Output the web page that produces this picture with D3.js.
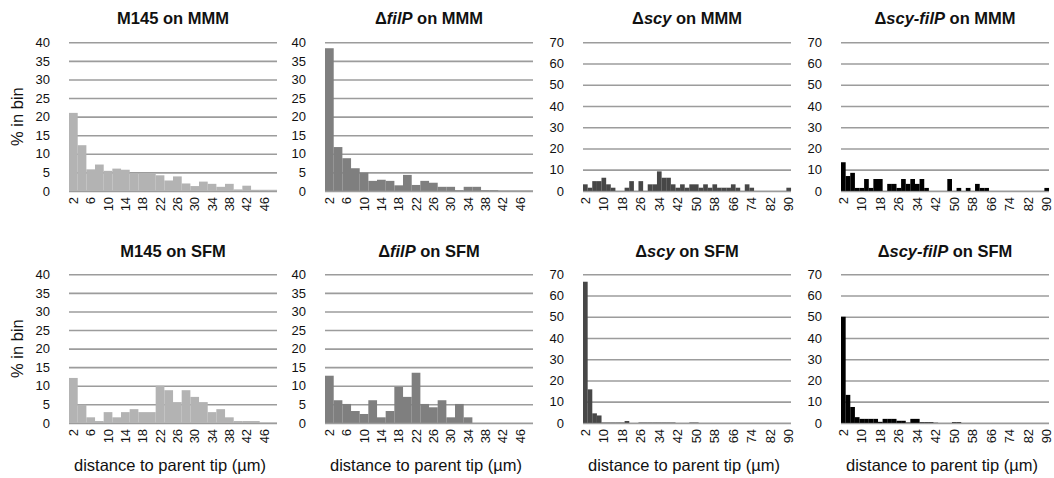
<!DOCTYPE html>
<html>
<head>
<meta charset="utf-8">
<script src="https://cdn.jsdelivr.net/npm/d3@7"></script>
<style>
  html, body { margin: 0; padding: 0; background: #fff; }
  svg { display: block; font-family: "Liberation Sans", Arial, Helvetica, sans-serif; }
  .tick text { fill: #111; }
</style>
</head>
<body>
<svg id="chart" width="1054" height="478"></svg>
<script>
// Bin centres (µm) for the short and long distance ranges
const binsShort = [2, 4, 6, 8, 10, 12, 14, 16, 18, 20, 22, 24, 26, 28, 30, 32, 34, 36, 38, 40, 42, 44, 46, 48];
const binsLong = [2, 4, 6, 8, 10, 12, 14, 16, 18, 20, 22, 24, 26, 28, 30, 32, 34, 36, 38, 40, 42, 44, 46, 48,
                  50, 52, 54, 56, 58, 60, 62, 64, 66, 68, 70, 72, 74, 76, 78, 80, 82, 84, 86, 88, 90];

// Tick labels shown on the category axes
const labelsShort = [2, 6, 10, 14, 18, 22, 26, 30, 34, 38, 42, 46];
const labelsLong = [2, 10, 18, 26, 34, 42, 50, 58, 66, 74, 82, 90];

// Value-axis ticks
const ticksLow = [0, 5, 10, 15, 20, 25, 30, 35, 40];
const ticksHigh = [0, 10, 20, 30, 40, 50, 60, 70];

// % of branches in each bin — MMM
const m145MMM = [21.0, 12.3, 5.8, 7.1, 5.4, 6.0, 5.7, 4.8, 4.8, 4.7, 4.2, 2.8, 3.9, 2.0, 1.3, 2.5, 1.9, 1.1, 1.9, 0.4, 1.4, 0.3, 0.3, 0.3];
const filpMMM = [38.4, 11.8, 8.8, 6.1, 4.9, 2.7, 3.0, 2.7, 1.5, 4.3, 1.6, 2.7, 2.2, 1.1, 1.1, 0.2, 1.1, 1.1, 0.2, 0.2, 0.1, 0.1, 0.1, 0.1];
const scyMMM = [3.1, 1.5, 4.6, 4.6, 6.2, 3.1, 1.5, 0, 0, 1.5, 4.6, 0, 4.6, 0, 3.1, 3.1, 9.2, 6.2, 6.2, 3.1,
                1.5, 3.1, 1.5, 3.1, 3.1, 1.5, 3.1, 1.5, 3.1, 1.5, 1.5, 1.5, 3.1, 1.5, 0, 3.1, 1.5, 0, 0, 0,
                0, 0, 0, 0, 1.5];
const scyfilpMMM = [13.5, 7.0, 8.5, 1.4, 1.4, 5.6, 1.4, 5.6, 5.6, 0, 3.3, 3.3, 1.4, 5.6, 3.3, 5.6, 3.3, 5.6, 1.4, 0,
                    0, 0, 0, 5.6, 0, 1.4, 0, 1.4, 0, 3.3, 1.4, 1.4, 0, 0, 0, 0, 0, 0, 0, 0,
                    0, 0, 0, 0, 1.4];

// % of branches in each bin — SFM
const m145SFM = [12.1, 4.9, 1.5, 0.5, 2.9, 1.5, 2.9, 3.7, 2.9, 2.9, 10.0, 8.8, 5.6, 8.8, 7.0, 5.6, 2.9, 3.7, 1.5, 0.5, 0.5, 0.5, 0.1, 0.1];
const filpSFM = [12.7, 6.1, 5.1, 3.2, 2.4, 6.1, 1.5, 3.2, 9.7, 7.0, 13.5, 5.1, 4.2, 6.1, 1.5, 5.1, 1.5, 0, 0, 0, 0, 0, 0, 0];
const scySFM = [66.5, 15.8, 4.5, 3.5, 0.2, 0.2, 0.2, 0.2, 0.2, 0.9, 0, 0, 0.2, 0.2, 0.2, 0.2, 0.2, 0.2, 0.2, 0.2,
                0, 0, 0, 0.2, 0.2, 0, 0, 0, 0, 0, 0, 0, 0, 0, 0, 0, 0, 0, 0, 0,
                0, 0, 0, 0, 0];
const scyfilpSFM = [50.0, 13.2, 7.5, 2.7, 1.9, 1.9, 1.9, 1.9, 0.5, 1.9, 1.9, 1.9, 1.0, 1.0, 0.2, 1.9, 1.9, 0.3, 0.3, 0.3,
                    0.1, 0, 0, 0, 0.3, 0.3, 0, 0, 0, 0, 0, 0, 0, 0, 0, 0, 0, 0, 0, 0,
                    0, 0, 0, 0, 0];

// Panel titles: [text, italic?] pieces
const titles = [
  [["M145 on MMM", false]],
  [["Δ", false], ["filP", true], [" on MMM", false]],
  [["Δ", false], ["scy", true], [" on MMM", false]],
  [["Δ", false], ["scy-filP", true], [" on MMM", false]],
  [["M145 on SFM", false]],
  [["Δ", false], ["filP", true], [" on SFM", false]],
  [["Δ", false], ["scy", true], [" on SFM", false]],
  [["Δ", false], ["scy-filP", true], [" on SFM", false]]
];
const seriesList = [m145MMM, filpMMM, scyMMM, scyfilpMMM, m145SFM, filpSFM, scySFM, scyfilpSFM];
const strainColors = ["#b3b3b3", "#7f7f7f", "#474747", "#000000"];

// Layout
const colLeft = [69, 325, 583, 841];
const plotW = 208;
const rowTop = [42.3, 274.3];
const plotH = 148.6;
const gridColor = "#9c9c9c";

const svg = d3.select("#chart");

seriesList.forEach((values, i) => {
  const col = i % 4, row = Math.floor(i / 4);
  const long = col >= 2;
  const cats = long ? binsLong : binsShort;
  const labels = long ? labelsLong : labelsShort;
  const yTicks = long ? ticksHigh : ticksLow;
  const yMax = long ? 70 : 40;

  const g = svg.append("g").attr("transform", `translate(${colLeft[col]},${rowTop[row]})`);

  const x = d3.scaleBand().domain(cats).range([0, plotW]).padding(0);
  const y = d3.scaleLinear().domain([0, yMax]).range([plotH, 0]);

  // horizontal gridlines
  g.append("g")
    .call(d3.axisLeft(y).tickValues(yTicks).tickSize(-plotW).tickFormat(""))
    .call(s => s.select(".domain").remove())
    .call(s => s.selectAll(".tick line").attr("stroke", gridColor).attr("stroke-width", 1.6));

  // value-axis labels
  g.append("g")
    .call(d3.axisLeft(y).tickValues(yTicks).tickSize(0).tickPadding(19))
    .call(s => s.select(".domain").remove())
    .call(s => s.selectAll("text").attr("font-size", 13).attr("font-family", "Liberation Sans, Arial, sans-serif"));

  // bars
  g.append("g").selectAll("rect")
    .data(values.map((v, k) => ({ c: cats[k], v })))
    .join("rect")
    .attr("x", d => x(d.c))
    .attr("width", x.bandwidth() + 0.05)
    .attr("y", d => y(d.v))
    .attr("height", d => plotH - y(d.v))
    .attr("fill", strainColors[col]);

  // category axis labels, rotated
  g.append("g")
    .attr("transform", `translate(0,${plotH})`)
    .call(d3.axisBottom(x).tickValues(labels).tickSize(0))
    .call(s => s.select(".domain").remove())
    .call(s => s.selectAll("text")
      .attr("font-size", 13)
      .attr("font-family", "Liberation Sans, Arial, sans-serif")
      .attr("transform", "rotate(-90)")
      .attr("text-anchor", "end")
      .attr("x", -6)
      .attr("y", 0)
      .attr("dy", "0.35em"));

  // panel title
  const t = g.append("text")
    .attr("x", plotW / 2)
    .attr("y", row === 0 ? 23.5 - rowTop[0] : 256.5 - rowTop[1])
    .attr("text-anchor", "middle")
    .attr("font-size", 16.5)
    .attr("font-weight", "bold")
    .attr("fill", "#111");
  titles[i].forEach(([txt, it]) => {
    t.append("tspan").text(txt).attr("font-style", it ? "italic" : "normal");
  });

  // axis titles
  if (col === 0) {
    g.append("text")
      .attr("transform", `translate(${17 - colLeft[0]},${plotH / 2}) rotate(-90)`)
      .attr("text-anchor", "middle")
      .attr("dy", "0.35em")
      .attr("font-size", 16.5)
      .attr("fill", "#111")
      .text("% in bin");
  }
  if (row === 1) {
    g.append("text")
      .attr("x", plotW / 2 - 3)
      .attr("y", 471 - rowTop[1])
      .attr("text-anchor", "middle")
      .attr("font-size", 16.5)
      .attr("fill", "#111")
      .text("distance to parent tip (µm)");
  }
});
</script>
</body>
</html>
